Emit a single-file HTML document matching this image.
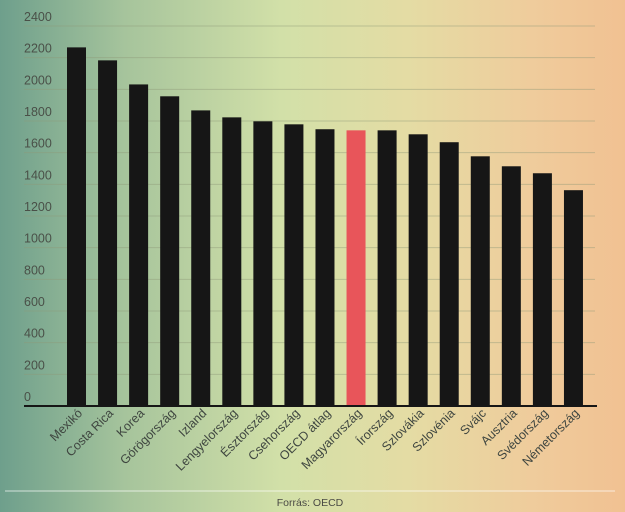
<!DOCTYPE html>
<html><head><meta charset="utf-8"><style>
html,body{margin:0;padding:0;width:625px;height:512px;overflow:hidden}
body{background:linear-gradient(90deg,#6e9f8c 0%,#a6c49c 20%,#d2e0a8 45%,#e4dca4 65%,#efcc9c 85%,#f1c192 100%)}
text{font-family:"Liberation Sans","DejaVu Sans",sans-serif}
</style></head><body>
<svg width="625" height="512" viewBox="0 0 625 512" style="position:absolute;left:0;top:0">
<g id="g"></g>
</svg>
<script>
const vals=[2265,2183,2031,1956,1867,1823,1798,1779,1748,1741,1741,1716,1666,1577,1514,1470,1363];
const names=["Mexikó","Costa Rica","Korea","Görögország","Izland","Lengyelország","Észtország","Csehország","OECD átlag","Magyarország","Írország","Szlovákia","Szlovénia","Svájc","Ausztria","Svédország","Németország"];
let s="";
const y0=406,k=(406-26)/2400;
for(let v=0;v<=2400;v+=200){const y=y0-v*k;
 if(v>0)s+=`<line x1="24" x2="595" y1="${y}" y2="${y}" stroke="#8e9a78" stroke-opacity="0.45" stroke-width="1"/>`;
 s+=`<text x="24" y="${y-5}" font-size="12.5" fill="#4a5048">${v}</text>`;}
vals.forEach((v,i)=>{const x=67+i*31.06;const h=v*k;
 s+=`<rect x="${x}" y="${y0-h}" width="19" height="${h}" fill="${i==9?'#e8555a':'#161616'}"/>`;
 const cx=x+16;
 s+=`<text transform="translate(${cx},414) rotate(-45)" text-anchor="end" font-size="12.5" fill="#3f4640">${names[i]}</text>`;});
s+=`<line x1="24" x2="597" y1="406" y2="406" stroke="#161616" stroke-width="2"/>`;
s+=`<line x1="5" x2="615" y1="491" y2="491" stroke="#ffffff" stroke-opacity="0.45" stroke-width="1.5"/>`;
s+=`<text x="310" y="506" text-anchor="middle" font-size="10.5" fill="#4a4a44">Forrás: OECD</text>`;
document.getElementById("g").innerHTML=s;
</script>
</body></html>
